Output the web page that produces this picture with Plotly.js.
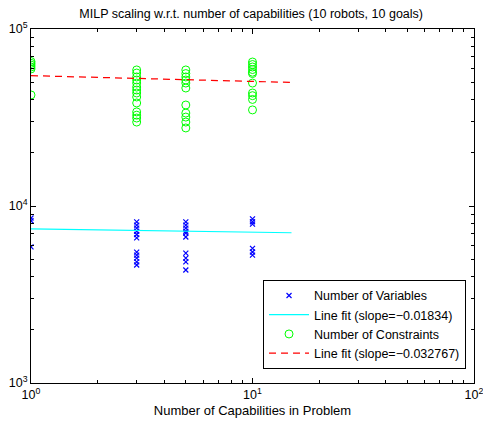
<!DOCTYPE html>
<html>
<head>
<meta charset="utf-8">
<script src="https://cdn.plot.ly/plotly-3.0.1.min.js"></script>
<style>html,body{margin:0;padding:0;background:#fff;}#chart{width:483px;height:422px;}</style>
</head>
<body>
<div id="chart"></div>
<script>
// Number of capabilities per problem (x) and measured values
var varX = [1,1,1, 3,3,3,3,3,3,3,3,3,3,3, 5,5,5,5,5,5,5,5,5,5, 10,10,10,10,10,10];
var varY = [8550,8250,5870, 8130,7800,7500,7200,6900,6600,5490,5280,5080,4830,4640,
            8130,7800,7500,7200,7040,6680,5420,5080,4830,4350,
            8450,8150,7900,5760,5500,5280];
var conX = [1,1,1,1,1,1, 3,3,3,3,3,3,3,3,3,3,3,3,3,3, 5,5,5,5,5,5,5,5,5,5,5, 10,10,10,10,10,10,10,10,10,10,10,10];
var conY = [65500,64000,62500,61000,59500,42400,
            58700,56400,53600,51500,49500,47000,45200,43500,41300,38200,34000,32600,31400,29800,
            58700,56000,53600,51500,49500,46400,37200,33500,31800,29800,27600,
            65100,63000,61000,59000,57000,56000,49500,43500,42000,40000,34900];
var fitX = [1, 15];
var varFitY = [7420, 7060];
var conFitY = [54500, 49900];
var legendNames = ['Number of Variables','Line fit (slope=\u22120.01834)','Number of Constraints','Line fit (slope=\u22120.032767)'];
var titleText = 'MILP scaling w.r.t. number of capabilities (10 robots, 10 goals)';
var xTitle = 'Number of Capabilities in Problem';
var xTickVals = [1, 10, 100];
var xTickText = ['10<sup>0</sup>','10<sup>1</sup>','10<sup>2</sup>'];
var yTickVals = [1000, 10000, 100000];
var yTickText = ['10<sup>3</sup>','10<sup>4</sup>','10<sup>5</sup>'];

function minorVals(lo, hi){
  var out=[];
  for(var d=lo; d<hi; d++){ for(var k=2;k<=9;k++){ out.push(k*Math.pow(10,d)); } }
  return out;
}

var traces = [
  {x: varX, y: varY, type:'scatter', mode:'markers', name: legendNames[0],
   marker:{symbol:'x-thin-open', size:5, color:'#0000ff', line:{width:1.2, color:'#0000ff'}}},
  {x: fitX, y: varFitY, type:'scatter', mode:'lines', name: legendNames[1],
   line:{color:'#00ffff', width:1.2}},
  {x: conX, y: conY, type:'scatter', mode:'markers', name: legendNames[2],
   marker:{symbol:'circle-open', size:8, color:'#00ff00', line:{width:1, color:'#00ff00'}}},
  {x: fitX, y: conFitY, type:'scatter', mode:'lines', name: legendNames[3],
   line:{color:'#ff0000', width:1.2, dash:'7px,5px'}}
];

var fontFam = 'Liberation Sans, Arial, sans-serif';
var axisCommon = {
  type:'log', showgrid:false, zeroline:false, showline:true, linecolor:'#000', linewidth:1,
  mirror:'allticks', ticks:'inside', ticklen:5, tickwidth:1, tickcolor:'#000',
  tickmode:'array', ticklabeloverflow:'allow', tickfont:{family:fontFam, size:12.5, color:'#000'}
};

var layout = {
  width:483, height:422,
  margin:{l:31, r:9, t:29, b:39},
  paper_bgcolor:'#fff', plot_bgcolor:'#fff',
  font:{family:fontFam, size:12.5, color:'#000'},
  title:{text:titleText, font:{size:12.5, color:'#000'}, x:0.52, xanchor:'center', y:0.967, yanchor:'middle', yref:'container'},
  showlegend:true,
  legend:{x:0.982, y:0.04, xanchor:'right', yanchor:'bottom', bgcolor:'#fff', bordercolor:'#000', borderwidth:1,
          font:{size:12.5, color:'#000'}, tracegroupgap:0, itemwidth:40},
  xaxis: Object.assign({}, axisCommon, {range:[0,2], tickvals:xTickVals, ticktext:xTickText,
          minor:{tickmode:'array', tickvals:minorVals(0,2), ticks:'inside', ticklen:3, tickcolor:'#000', showgrid:false},
          title:{text:xTitle, font:{size:13, color:'#000'}, standoff:4}}),
  yaxis: Object.assign({}, axisCommon, {range:[3,5], tickvals:yTickVals, ticktext:yTickText,
          minor:{tickmode:'array', tickvals:minorVals(3,5), ticks:'inside', ticklen:3, tickcolor:'#000', showgrid:false}})
};

Plotly.newPlot('chart', traces, layout, {displayModeBar:false, staticPlot:true});
</script>
</body>
</html>
